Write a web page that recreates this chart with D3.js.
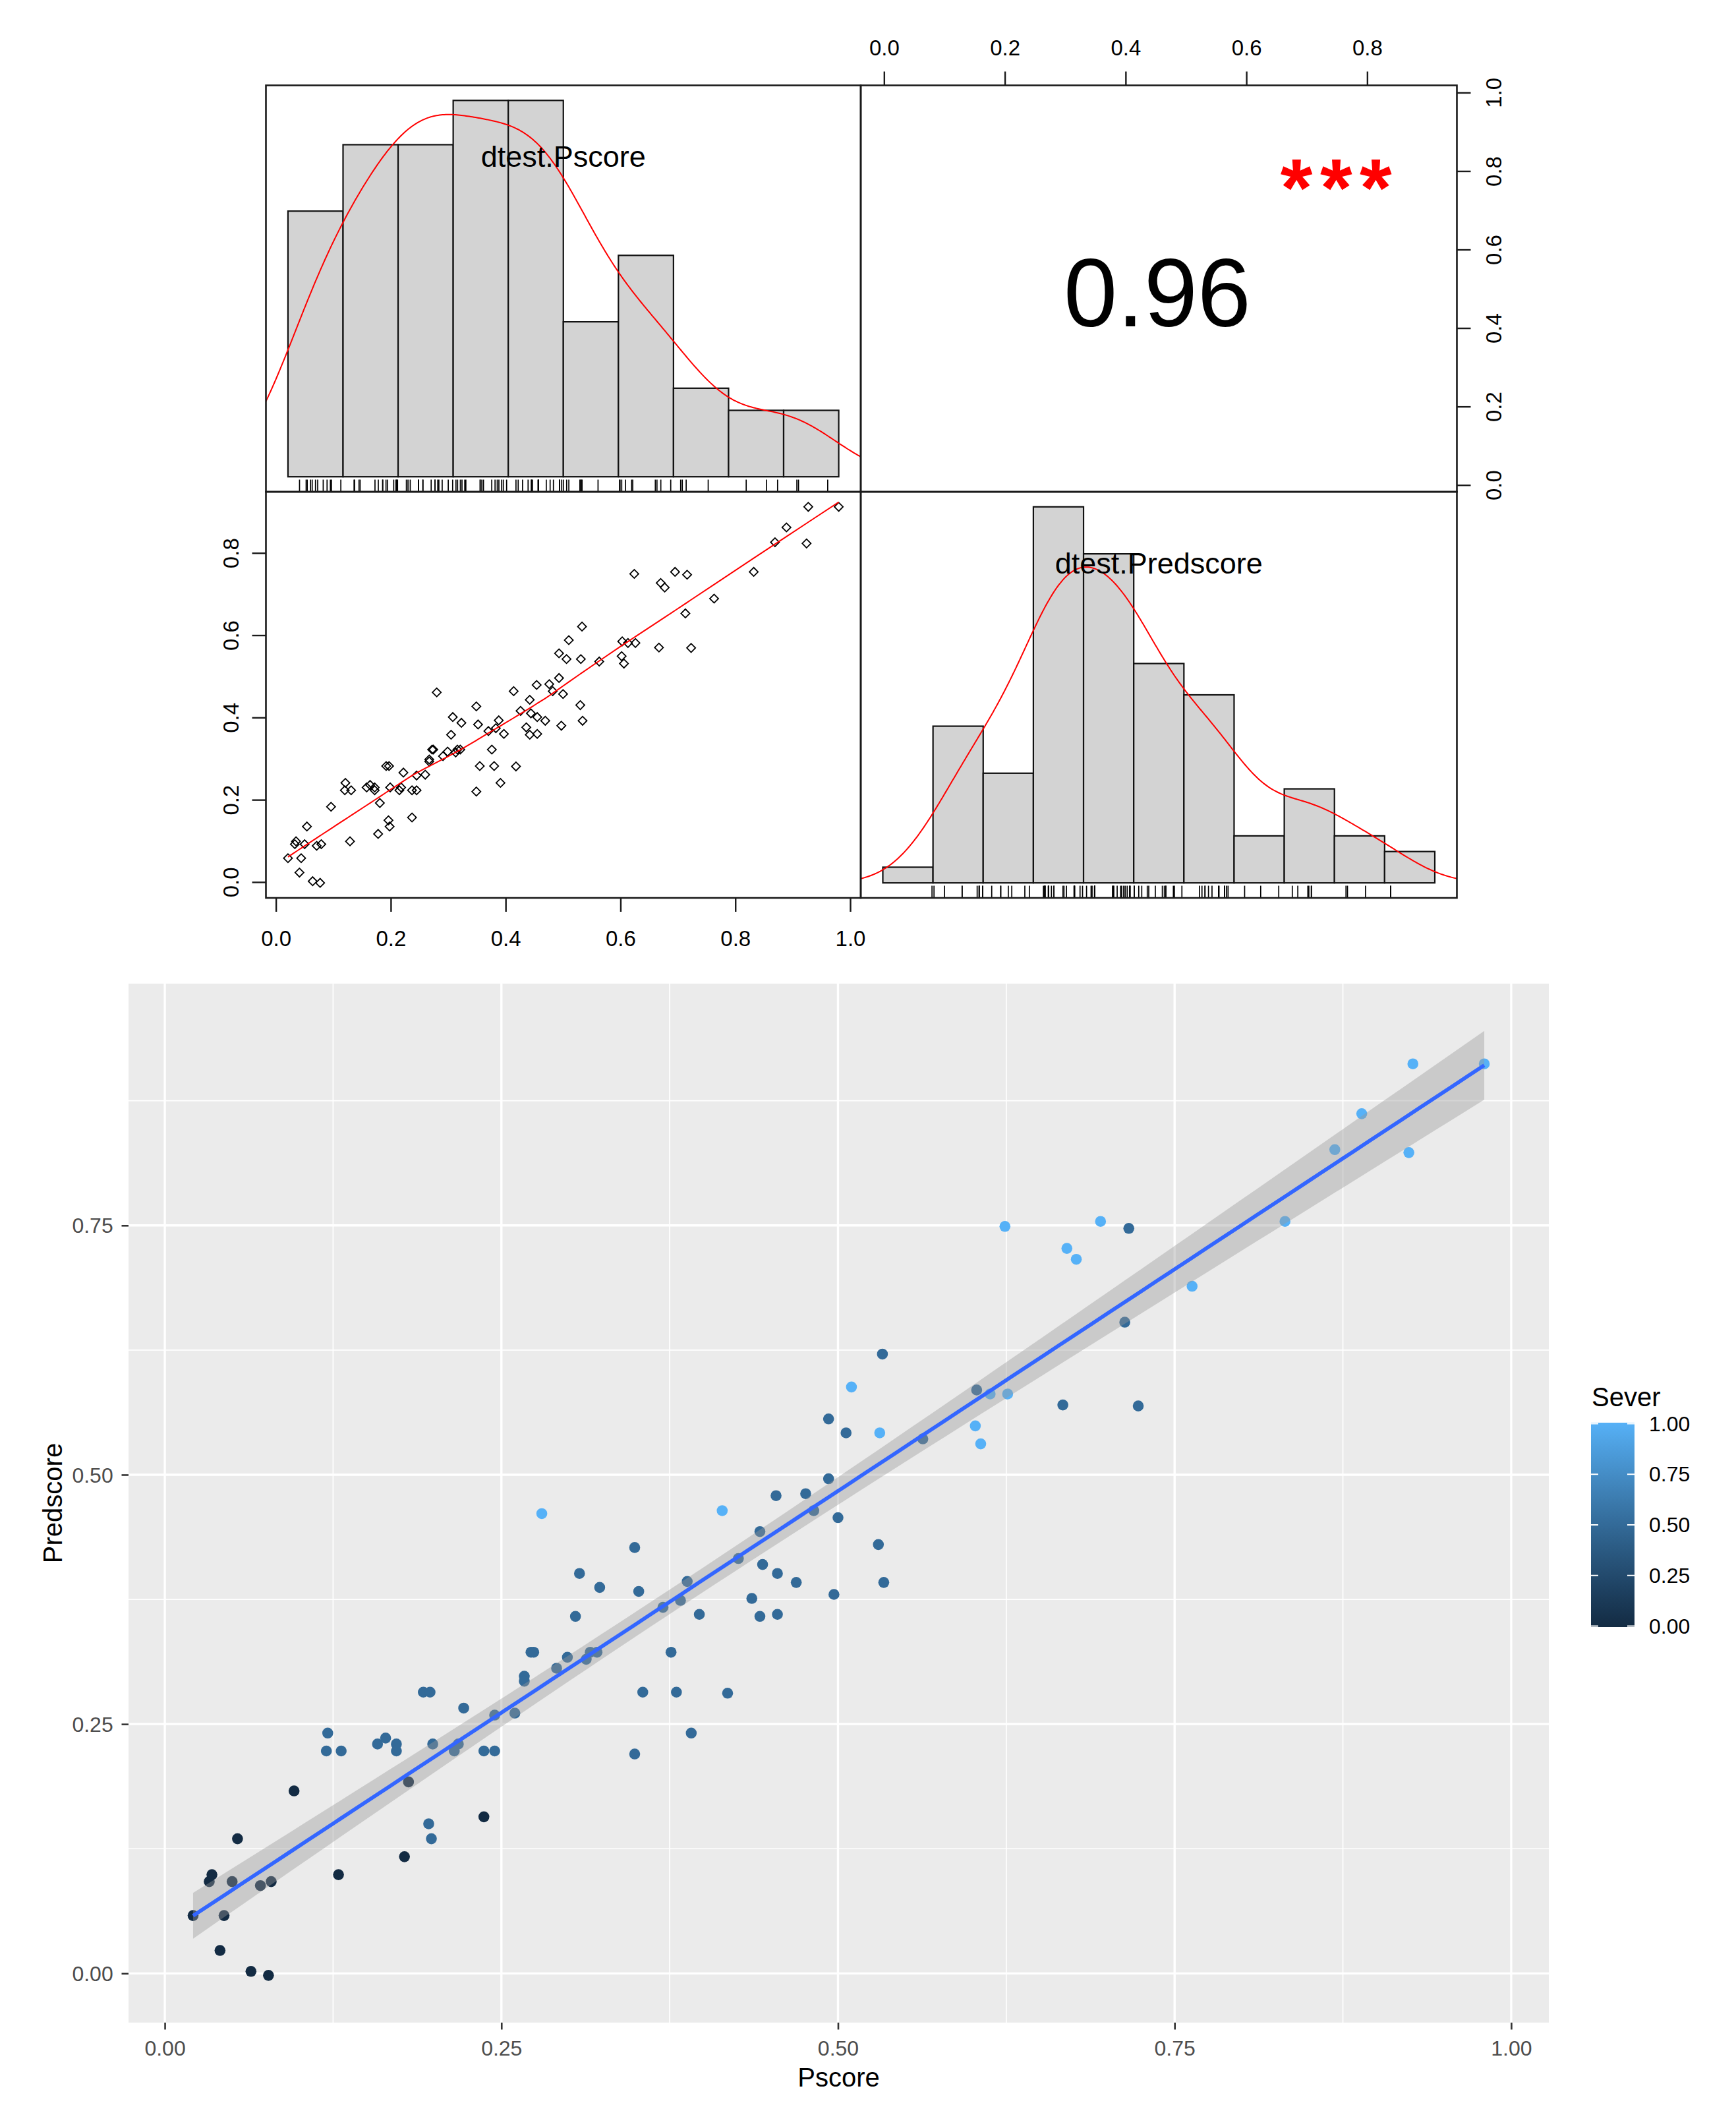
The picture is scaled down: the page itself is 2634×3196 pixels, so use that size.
<!DOCTYPE html>
<html>
<head>
<meta charset="utf-8">
<script src="https://cdn.jsdelivr.net/npm/d3@7"></script>
<style>
  body { margin: 0; background: #fff; }
  text { font-family: "Liberation Sans", Arial, sans-serif; }
</style>
</head>
<body>
<div id="container"></div>
<script>
const width = 2634, height = 3196;

// ---- data ----
const pscore = [
  0.021, 0.033, 0.035, 0.044, 0.041, 0.050, 0.054, 0.064, 0.077, 0.071, 0.079, 0.096, 0.129,
  0.178, 0.181, 0.237,
  0.120, 0.121, 0.131, 0.158, 0.164, 0.172, 0.172, 0.196, 0.198, 0.192, 0.197, 0.199,
  0.215, 0.218, 0.222, 0.237, 0.245, 0.245, 0.260, 0.267, 0.267, 0.272, 0.274,
  0.291, 0.299, 0.313, 0.316, 0.321, 0.305, 0.308, 0.323, 0.349, 0.352, 0.355, 0.349,
  0.370, 0.376, 0.380, 0.383, 0.388, 0.391, 0.397, 0.418, 0.426, 0.436, 0.442, 0.444,
  0.442, 0.455, 0.455,
  0.469, 0.497, 0.500, 0.482, 0.476, 0.454, 0.493, 0.530, 0.534, 0.493, 0.506, 0.533, 0.563,
  0.603, 0.667, 0.716, 0.713, 0.723,
  0.280, 0.414, 0.510, 0.531, 0.602, 0.606, 0.613, 0.626, 0.624, 0.670, 0.677, 0.695,
  0.763, 0.832, 0.869, 0.889, 0.924, 0.927, 0.980
];
const predscore = [
  0.058, 0.092, 0.099, 0.058, 0.023, 0.092, 0.135, 0.002, -0.002, 0.088, 0.092, 0.183, 0.099,
  0.117, 0.192, 0.157,
  0.223, 0.241, 0.223, 0.230, 0.236, 0.230, 0.223, 0.150, 0.135, 0.282, 0.282, 0.230,
  0.223, 0.230, 0.266, 0.223, 0.223, 0.259, 0.261, 0.298, 0.293, 0.322, 0.322,
  0.306, 0.317, 0.315, 0.322, 0.322, 0.358, 0.401, 0.387, 0.427, 0.383, 0.282, 0.220,
  0.367, 0.322, 0.282, 0.374, 0.393, 0.241, 0.360, 0.281, 0.416, 0.376, 0.358, 0.410,
  0.443, 0.360, 0.401,
  0.392, 0.380, 0.457, 0.464, 0.481, 0.479, 0.496, 0.430, 0.392, 0.556, 0.542, 0.621, 0.536,
  0.585, 0.570, 0.747, 0.653, 0.569,
  0.461, 0.464, 0.588, 0.542, 0.549, 0.531, 0.581, 0.581, 0.749, 0.727, 0.716, 0.754,
  0.689, 0.754, 0.826, 0.862, 0.823, 0.912, 0.912
];
const sever = [
  0, 0, 0, 0, 0, 0, 0, 0, 0, 0, 0, 0, 0,
  0, 0, 0,
  0.5, 0.5, 0.5, 0.5, 0.5, 0.5, 0.5, 0.5, 0.5, 0.5, 0.5, 0.5,
  0.5, 0.5, 0.5, 0.5, 0.5, 0.5, 0.5, 0.5, 0.5, 0.5, 0.5,
  0.5, 0.5, 0.5, 0.5, 0.5, 0.5, 0.5, 0.5, 0.5, 0.5, 0.5, 0.5,
  0.5, 0.5, 0.5, 0.5, 0.5, 0.5, 0.5, 0.5, 0.5, 0.5, 0.5, 0.5,
  0.5, 0.5, 0.5,
  0.5, 0.5, 0.5, 0.5, 0.5, 0.5, 0.5, 0.5, 0.5, 0.5, 0.5, 0.5, 0.5,
  0.5, 0.5, 0.5, 0.5, 0.5,
  1, 1, 1, 1, 1, 1, 1, 1, 1, 1, 1, 1,
  1, 1, 1, 1, 1, 1, 1
];

// histogram bins (counts)
const pscoreBreaks = [0, 0.1, 0.2, 0.3, 0.4, 0.5, 0.6, 0.7, 0.8, 0.9, 1.0];
const pscoreCounts = [12, 15, 15, 17, 17, 7, 10, 4, 3, 3];
const predBreaks = [-0.1, 0, 0.1, 0.2, 0.3, 0.4, 0.5, 0.6, 0.7, 0.8, 0.9, 1.0];
const predCounts = [1, 10, 7, 24, 21, 14, 12, 3, 6, 3, 2];

const pscoreTicks = [0, 0.2, 0.4, 0.6, 0.8, 1.0];
const predTicks = [0, 0.2, 0.4, 0.6, 0.8];
const ggXTicks = [0, 0.25, 0.5, 0.75, 1.0];
const ggYTicks = [0, 0.25, 0.5, 0.75];
const ggXMinor = [0.125, 0.375, 0.625, 0.875];
const ggYMinor = [0.125, 0.375, 0.625, 0.875];
const legendTicks = [0, 0.25, 0.5, 0.75, 1.0];

const labelP = "dtest.Pscore", labelPred = "dtest.Predscore";
const corText = "0.96", starText = "***";
const xTitle = "Pscore", yTitle = "Predscore", legendTitle = "Sever";
const tCrit = 1.9837;   // qt(0.975, 101)

// ---- layout ----
const pp = {x0: 403.5, x1: 1306, x2: 2210.5, y0: 129.5, y1: 746, y2: 1362};
const gp = {x0: 195, x1: 2350, y0: 1492, y1: 3068};
const fontR = 33;

const svg = d3.select("#container").append("svg")
    .attr("width", width).attr("height", height)
    .style("background", "#fff");

const ext = (e, k) => [e[0] - k * (e[1] - e[0]), e[1] + k * (e[1] - e[0])];

// helpers
function lowess(x, y, f = 2 / 3, iter = 3) {
  const n = x.length;
  const idx = d3.range(n).sort((a, b) => x[a] - x[b]);
  const xs = idx.map(i => x[i]), ys = idx.map(i => y[i]);
  const ns = Math.max(2, Math.min(n, Math.floor(f * n + 1e-7)));
  const range = xs[n - 1] - xs[0];
  let rw = new Array(n).fill(1);
  let fit = new Array(n).fill(0);
  for (let it = 0; it <= iter; it++) {
    let nleft = 0, nright = ns - 1;
    for (let i = 0; i < n; i++) {
      while (nright < n - 1 && xs[i] - xs[nleft] > xs[nright + 1] - xs[i]) { nleft++; nright++; }
      const h = Math.max(xs[i] - xs[nleft], xs[nright] - xs[i]);
      const h9 = 0.999 * h, h1 = 0.001 * h;
      const w = [];
      let sw = 0;
      for (let j = 0; j < n; j++) {
        const r = Math.abs(xs[j] - xs[i]);
        let wj = 0;
        if (r <= h9) wj = (r <= h1 ? 1 : Math.pow(1 - Math.pow(r / h, 3), 3)) * rw[j];
        w.push(wj); sw += wj;
      }
      if (sw <= 0) { fit[i] = ys[i]; continue; }
      let a = 0; for (let j = 0; j < n; j++) a += w[j] * xs[j] / sw;
      let c = 0; for (let j = 0; j < n; j++) c += w[j] * (xs[j] - a) * (xs[j] - a) / sw;
      const ww = w.slice();
      if (Math.sqrt(c) > 0.001 * range) {
        const b = (xs[i] - a) / c;
        for (let j = 0; j < n; j++) ww[j] = w[j] / sw * (1 + b * (xs[j] - a));
      } else {
        for (let j = 0; j < n; j++) ww[j] = w[j] / sw;
      }
      let yf = 0; for (let j = 0; j < n; j++) yf += ww[j] * ys[j];
      fit[i] = yf;
    }
    if (it === iter) break;
    const res = ys.map((v, i) => Math.abs(v - fit[i]));
    const cmad = 6 * d3.median(res);
    rw = res.map(r => r <= 0.001 * cmad ? 1 : r > 0.999 * cmad ? 0 : Math.pow(1 - (r / cmad) * (r / cmad), 2));
  }
  return xs.map((v, i) => [v, fit[i]]);
}

function densityR(x) {
  const n = x.length;
  const s = d3.deviation(x);
  const sorted = x.slice().sort(d3.ascending);
  const iqr = d3.quantileSorted(sorted, 0.75) - d3.quantileSorted(sorted, 0.25);
  const bw = 0.9 * Math.min(s, iqr / 1.34) * Math.pow(n, -0.2);
  const lo = d3.min(x) - 3 * bw, hi = d3.max(x) + 3 * bw;
  return d3.range(512).map(k => {
    const g = lo + (hi - lo) * k / 511;
    const d = d3.sum(x, v => Math.exp(-0.5 * ((g - v) / bw) ** 2)) / (n * bw * Math.sqrt(2 * Math.PI));
    return [g, d];
  });
}

function clipRect(id, x, y, w, h) {
  svg.append("clipPath").attr("id", id)
    .append("rect").attr("x", x).attr("y", y).attr("width", w).attr("height", h);
  return "url(#" + id + ")";
}

// ---- pairs: scales ----
const xP = d3.scaleLinear().domain(ext(d3.extent(pscore), 0.04)).range([pp.x0, pp.x1]);
const yP = d3.scaleLinear().domain(ext(d3.extent(pscore), 0.04)).range([pp.y1, pp.y0]);
const xPred = d3.scaleLinear().domain(ext(d3.extent(predscore), 0.04)).range([pp.x1, pp.x2]);
const yPred = d3.scaleLinear().domain(ext(d3.extent(predscore), 0.04)).range([pp.y2, pp.y1]);

function histPanel(vals, breaks, counts, x0, x1, y0, y1, id) {
  const n = d3.sum(counts);
  const bw = breaks[1] - breaks[0];
  const dens = counts.map(c => c / (n * bw));
  const hx = d3.scaleLinear().domain(ext([breaks[0], breaks[breaks.length - 1]], 0.04)).range([x0, x1]);
  const hy = d3.scaleLinear().domain(ext([0, d3.max(dens)], 0.04)).range([y1, y0]);
  const g = svg.append("g").attr("clip-path", clipRect(id, x0, y0, x1 - x0, y1 - y0));
  g.selectAll("rect.bar").data(dens).join("rect").attr("class", "bar")
    .attr("x", (d, i) => hx(breaks[i]))
    .attr("width", (d, i) => hx(breaks[i + 1]) - hx(breaks[i]))
    .attr("y", d => hy(d))
    .attr("height", d => hy(0) - hy(d))
    .attr("fill", "#D3D3D3").attr("stroke", "#111").attr("stroke-width", 2.2);
  g.append("path").datum(densityR(vals))
    .attr("d", d3.line().x(d => hx(d[0])).y(d => hy(d[1])))
    .attr("fill", "none").attr("stroke", "#FF0000").attr("stroke-width", 2);
  const tick = 0.03 * Math.min(x1 - x0, y1 - y0);
  g.selectAll("line.rug").data(vals).join("line").attr("class", "rug")
    .attr("x1", d => hx(d)).attr("x2", d => hx(d))
    .attr("y1", y1).attr("y2", y1 - tick)
    .attr("stroke", "#000").attr("stroke-width", 1.7);
}

histPanel(pscore, pscoreBreaks, pscoreCounts, pp.x0, pp.x1, pp.y0, pp.y1, "clipH1");
histPanel(predscore, predBreaks, predCounts, pp.x1, pp.x2, pp.y1, pp.y2, "clipH2");

// diagonal labels
svg.append("text").attr("x", (pp.x0 + pp.x1) / 2).attr("y", pp.y0 + 123.5)
  .attr("text-anchor", "middle").attr("font-size", 45).text(labelP);
svg.append("text").attr("x", (pp.x1 + pp.x2) / 2).attr("y", pp.y1 + 124)
  .attr("text-anchor", "middle").attr("font-size", 45).text(labelPred);

// scatter panel
const gS = svg.append("g").attr("clip-path", clipRect("clipS", pp.x0, pp.y1, pp.x1 - pp.x0, pp.y2 - pp.y1));
gS.selectAll("path.pt").data(pscore).join("path").attr("class", "pt")
  .attr("d", d3.symbol().type(d3.symbolSquare).size(86))
  .attr("transform", (d, i) => `translate(${xP(d)},${yPred(predscore[i])}) rotate(45)`)
  .attr("fill", "none").attr("stroke", "#000").attr("stroke-width", 1.8);
gS.append("path").datum(lowess(pscore, predscore))
  .attr("d", d3.line().x(d => xP(d[0])).y(d => yPred(d[1])))
  .attr("fill", "none").attr("stroke", "#FF0000").attr("stroke-width", 2);

// correlation panel
svg.append("text").attr("x", 1756).attr("y", 495)
  .attr("text-anchor", "middle").attr("font-size", 146).text(corText);
svg.append("text").attr("x", 2033).attr("y", 328)
  .attr("text-anchor", "middle").attr("font-size", 125).attr("letter-spacing", 11.5)
  .attr("font-weight", "bold").attr("fill", "#FF0000").text(starText);

// panel boxes
[[pp.x0, pp.y0, pp.x1, pp.y1], [pp.x1, pp.y0, pp.x2, pp.y1],
 [pp.x0, pp.y1, pp.x1, pp.y2], [pp.x1, pp.y1, pp.x2, pp.y2]].forEach(b => {
  svg.append("rect").attr("x", b[0]).attr("y", b[1])
    .attr("width", b[2] - b[0]).attr("height", b[3] - b[1])
    .attr("fill", "none").attr("stroke", "#1a1a1a").attr("stroke-width", 2.6);
});

// pairs axes
function styleR(g) {
  g.select(".domain").remove();
  g.selectAll(".tick line").attr("stroke", "#1a1a1a").attr("stroke-width", 2.4);
  g.selectAll(".tick text").attr("font-size", fontR).attr("fill", "#000")
    .style("font-family", "Liberation Sans, Arial, sans-serif");
}
const fmt1 = d3.format(".1f");
svg.append("g").attr("transform", `translate(0,${pp.y2})`)
  .call(d3.axisBottom(xP).tickValues(pscoreTicks).tickFormat(fmt1).tickSize(21))
  .call(styleR)
  .call(g => g.selectAll(".tick text").attr("y", 61).attr("dy", "0.35em"));
svg.append("g").attr("transform", `translate(0,${pp.y0})`)
  .call(d3.axisTop(xPred).tickValues(predTicks).tickFormat(fmt1).tickSize(21))
  .call(styleR)
  .call(g => g.selectAll(".tick text").attr("y", -57).attr("dy", "0.35em"));
svg.append("g").attr("transform", `translate(${pp.x0},0)`)
  .call(d3.axisLeft(yPred).tickValues(predTicks).tickFormat(fmt1).tickSize(21))
  .call(styleR)
  .call(g => g.selectAll(".tick text").attr("x", null).attr("y", null).attr("dy", "0.35em")
    .attr("text-anchor", "middle").attr("transform", "translate(-53,0) rotate(-90)"));
svg.append("g").attr("transform", `translate(${pp.x2},0)`)
  .call(d3.axisRight(yP).tickValues(pscoreTicks).tickFormat(fmt1).tickSize(21))
  .call(styleR)
  .call(g => g.selectAll(".tick text").attr("x", null).attr("y", null).attr("dy", "0.35em")
    .attr("text-anchor", "middle").attr("transform", "translate(56,0) rotate(-90)"));

// ---- ggplot part ----
const n = pscore.length;
const mx = d3.mean(pscore), my = d3.mean(predscore);
const sxx = d3.sum(pscore, v => (v - mx) ** 2);
const sxy = d3.sum(pscore, (v, i) => (v - mx) * (predscore[i] - my));
const slope = sxy / sxx, icpt = my - slope * mx;
const sse = d3.sum(pscore, (v, i) => (predscore[i] - icpt - slope * v) ** 2);
const sres = Math.sqrt(sse / (n - 2));
const xr = d3.extent(pscore);
const band = d3.range(80).map(k => {
  const xv = xr[0] + (xr[1] - xr[0]) * k / 79;
  const fv = icpt + slope * xv;
  const se = sres * Math.sqrt(1 / n + (xv - mx) ** 2 / sxx);
  return {x: xv, y: fv, lo: fv - tCrit * se, hi: fv + tCrit * se};
});

const gx = d3.scaleLinear().domain(ext(xr, 0.05)).range([gp.x0, gp.x1]);
const yAll = predscore.concat(band.map(d => d.lo), band.map(d => d.hi));
const gy = d3.scaleLinear().domain(ext(d3.extent(yAll), 0.05)).range([gp.y1, gp.y0]);
const colour = d3.scaleLinear().domain([0, 1]).range(["#132B43", "#56B1F7"]).interpolate(d3.interpolateLab);

svg.append("rect").attr("x", gp.x0).attr("y", gp.y0)
  .attr("width", gp.x1 - gp.x0).attr("height", gp.y1 - gp.y0).attr("fill", "#EBEBEB");

const grid = svg.append("g");
grid.selectAll("line.vmin").data(ggXMinor).join("line")
  .attr("x1", d => gx(d)).attr("x2", d => gx(d)).attr("y1", gp.y0).attr("y2", gp.y1)
  .attr("stroke", "#fff").attr("stroke-width", 1.7);
grid.selectAll("line.hmin").data(ggYMinor).join("line")
  .attr("y1", d => gy(d)).attr("y2", d => gy(d)).attr("x1", gp.x0).attr("x2", gp.x1)
  .attr("stroke", "#fff").attr("stroke-width", 1.7);
grid.selectAll("line.vmaj").data(ggXTicks).join("line")
  .attr("x1", d => gx(d)).attr("x2", d => gx(d)).attr("y1", gp.y0).attr("y2", gp.y1)
  .attr("stroke", "#fff").attr("stroke-width", 3.4);
grid.selectAll("line.hmaj").data(ggYTicks).join("line")
  .attr("y1", d => gy(d)).attr("y2", d => gy(d)).attr("x1", gp.x0).attr("x2", gp.x1)
  .attr("stroke", "#fff").attr("stroke-width", 3.4);

svg.append("g").selectAll("circle").data(pscore).join("circle")
  .attr("cx", d => gx(d)).attr("cy", (d, i) => gy(predscore[i]))
  .attr("r", 8.3).attr("fill", (d, i) => colour(sever[i]));

svg.append("path").datum(band)
  .attr("d", d3.area().x(d => gx(d.x)).y0(d => gy(d.lo)).y1(d => gy(d.hi)))
  .attr("fill", "#999999").attr("fill-opacity", 0.4);
svg.append("path").datum(band)
  .attr("d", d3.line().x(d => gx(d.x)).y(d => gy(d.y)))
  .attr("fill", "none").attr("stroke", "#3366FF").attr("stroke-width", 5.7);

function styleGG(g) {
  g.select(".domain").remove();
  g.selectAll(".tick line").attr("stroke", "#333333").attr("stroke-width", 2.6);
  g.selectAll(".tick text").attr("font-size", 32).attr("fill", "#4D4D4D")
    .style("font-family", "Liberation Sans, Arial, sans-serif");
}
const fmt2 = d3.format(".2f");
svg.append("g").attr("transform", `translate(0,${gp.y1})`)
  .call(d3.axisBottom(gx).tickValues(ggXTicks).tickFormat(fmt2).tickSize(10.5))
  .call(styleGG)
  .call(g => g.selectAll(".tick text").attr("y", 39).attr("dy", "0.35em"));
svg.append("g").attr("transform", `translate(${gp.x0},0)`)
  .call(d3.axisLeft(gy).tickValues(ggYTicks).tickFormat(fmt2).tickSize(10.5))
  .call(styleGG)
  .call(g => g.selectAll(".tick text").attr("x", -23.3).attr("dy", "0.35em"));

svg.append("text").attr("x", (gp.x0 + gp.x1) / 2).attr("y", 3151).attr("dy", "0.35em")
  .attr("text-anchor", "middle").attr("font-size", 40).text(xTitle);
svg.append("text").attr("transform", `translate(80,${(gp.y0 + gp.y1) / 2}) rotate(-90)`)
  .attr("dy", "0.35em").attr("text-anchor", "middle").attr("font-size", 40).text(yTitle);

// colour bar legend
const lg = {x0: 2414, x1: 2480, y0: 2158, y1: 2468};
const defs = svg.append("defs");
const grad = defs.append("linearGradient").attr("id", "severGrad")
  .attr("x1", 0).attr("y1", 1).attr("x2", 0).attr("y2", 0);
d3.range(11).forEach(k => grad.append("stop")
  .attr("offset", k / 10).attr("stop-color", colour(k / 10)));
svg.append("rect").attr("x", lg.x0).attr("y", lg.y0)
  .attr("width", lg.x1 - lg.x0).attr("height", lg.y1 - lg.y0).attr("fill", "url(#severGrad)");
const ly = d3.scaleLinear().domain([0, 1]).range([lg.y1 - 1.5, lg.y0 + 1.5]);
const lt = svg.append("g");
lt.selectAll("line.l").data(legendTicks).join("line").attr("class", "l")
  .attr("x1", lg.x0).attr("x2", lg.x0 + 11).attr("y1", d => ly(d)).attr("y2", d => ly(d))
  .attr("stroke", "#fff").attr("stroke-width", 2);
lt.selectAll("line.r").data(legendTicks).join("line").attr("class", "r")
  .attr("x1", lg.x1 - 11).attr("x2", lg.x1).attr("y1", d => ly(d)).attr("y2", d => ly(d))
  .attr("stroke", "#fff").attr("stroke-width", 2);
lt.selectAll("text").data(legendTicks).join("text")
  .attr("x", 2502).attr("y", d => ly(d)).attr("dy", "0.35em")
  .attr("font-size", 32).attr("fill", "#000").text(d => fmt2(d));
svg.append("text").attr("x", 2415).attr("y", 2133)
  .attr("font-size", 40).attr("fill", "#000").text(legendTitle);
</script>
</body>
</html>
